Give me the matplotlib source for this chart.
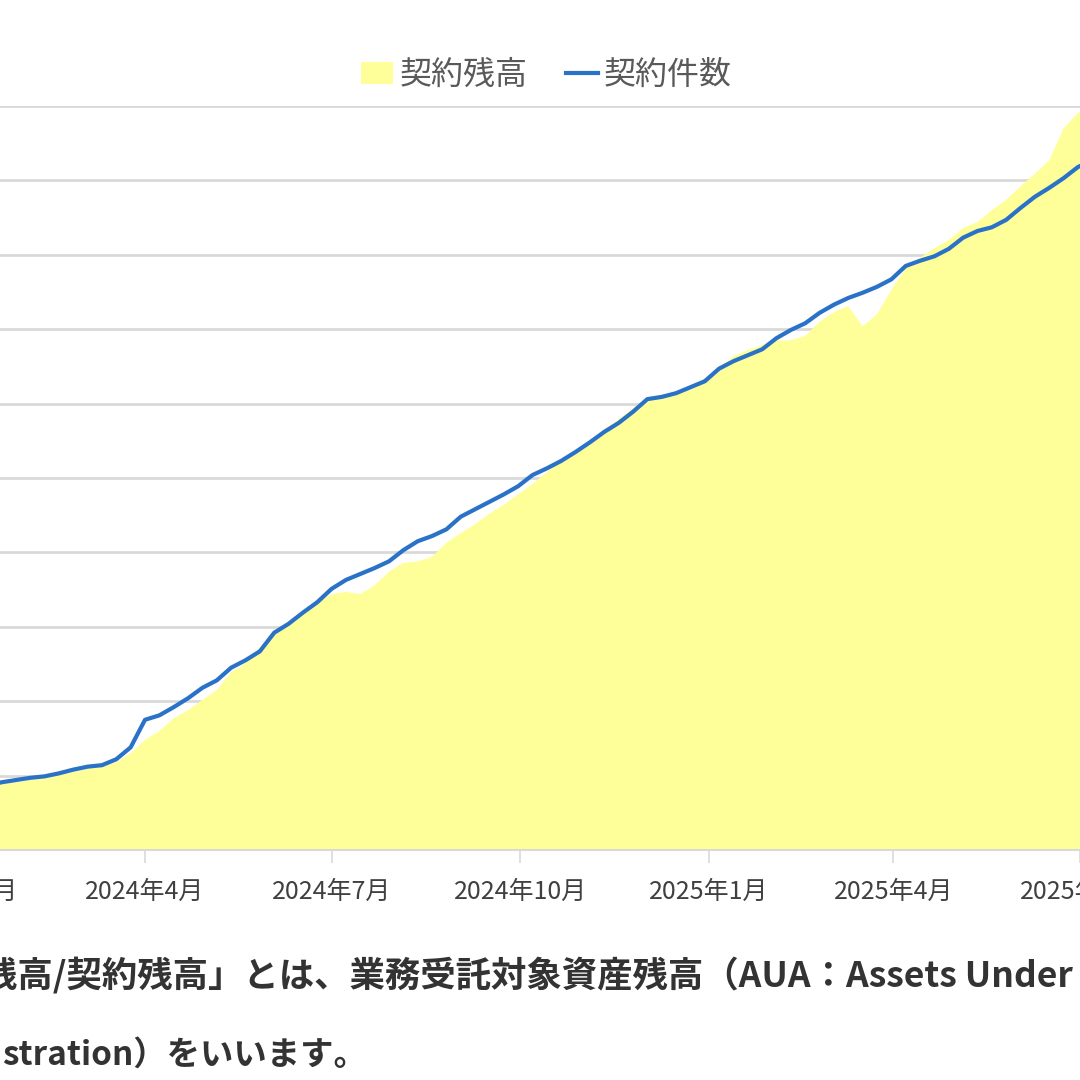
import matplotlib
matplotlib.use("Agg")
import matplotlib.pyplot as plt
from matplotlib.patches import Patch
from matplotlib.lines import Line2D
import pandas as pd
import numpy as np

plt.rcParams['font.family'] = ['Noto Sans CJK JP', 'DejaVu Sans']

# ---- data (weekly observations, values in gridline units) ----
dates = pd.date_range('2024-01-15', periods=78, freq='7D')

balance = [0.83, 0.89, 0.91, 0.94, 0.97, 1.01, 1.05, 1.09, 1.12, 1.18,
           1.30, 1.48, 1.60, 1.77, 1.88, 2.02, 2.15, 2.39, 2.51, 2.72,
           2.89, 3.04, 3.19, 3.33, 3.44, 3.47, 3.44, 3.56, 3.74, 3.86,
           3.88, 3.94, 4.13, 4.26, 4.38, 4.52, 4.64, 4.78, 4.92, 5.08,
           5.24, 5.32, 5.48, 5.65, 5.79, 5.94, 6.08, 6.12, 6.16, 6.24,
           6.34, 6.48, 6.64, 6.72, 6.79, 6.85, 6.85, 6.91, 7.10, 7.23,
           7.31, 7.04, 7.20, 7.53, 7.82, 7.96, 8.09, 8.20, 8.36, 8.44,
           8.60, 8.74, 8.92, 9.09, 9.27, 9.70, 9.91, 9.97]

contracts = [0.86, 0.91, 0.94, 0.97, 0.99, 1.03, 1.08, 1.12, 1.14, 1.22,
             1.38, 1.75, 1.81, 1.92, 2.04, 2.18, 2.28, 2.45, 2.55, 2.67,
             2.92, 3.04, 3.19, 3.33, 3.51, 3.63, 3.71, 3.79, 3.88, 4.03,
             4.15, 4.22, 4.31, 4.48, 4.58, 4.68, 4.78, 4.89, 5.04, 5.13,
             5.23, 5.35, 5.48, 5.62, 5.74, 5.89, 6.06, 6.09, 6.14, 6.22,
             6.30, 6.47, 6.57, 6.65, 6.73, 6.88, 6.99, 7.08, 7.22, 7.33,
             7.42, 7.49, 7.57, 7.67, 7.85, 7.92, 7.98, 8.08, 8.23, 8.32,
             8.37, 8.47, 8.63, 8.78, 8.90, 9.03, 9.18, 9.27]

tick_dates = pd.to_datetime(['2024-01-01', '2024-04-01', '2024-07-01',
                             '2024-10-01', '2025-01-01', '2025-04-01',
                             '2025-07-01'])
tick_labels = ['2024年1月', '2024年4月', '2024年7月', '2024年10月',
               '2025年1月', '2025年4月', '2025年7月']

series_names = ['契約残高', '契約件数']

note_line1_pre = '「AUA'
note_line1 = '残高/契約残高」とは、業務受託対象資産残高（AUA：Assets Under'
note_line2_pre = 'Admini'
note_line2 = 'stration）をいいます。'

# ---- styling ----
YELLOW = '#FFFF99'
BLUE = '#2A72C8'
GRID = '#D9D9D9'

W = H = 1080
fig = plt.figure(figsize=(10.8, 10.8), dpi=100)

# axes extends beyond the visible canvas (the reference is a cropped screenshot)
xlo = pd.Timestamp('2024-01-01')
xhi = pd.Timestamp('2025-07-31')
ppd = 935 / 456.0  # px per day
x_lo_px = 145 - (pd.Timestamp('2024-04-01') - xlo).days * ppd
x_hi_px = 1080 + (xhi - pd.Timestamp('2025-07-01')).days * ppd
bottom_px, top_px = 850, 106
ax = fig.add_axes([x_lo_px / W, (H - bottom_px) / H,
                   (x_hi_px - x_lo_px) / W, (bottom_px - top_px) / H])

ax.fill_between(dates, 0, balance, color=YELLOW, linewidth=0, zorder=2)
ax.plot(dates, contracts, color=BLUE, linewidth=3.0, zorder=3)

ax.set_xlim(xlo, xhi)
ax.set_ylim(0, 10)
ax.set_yticks(np.arange(0, 11, 1))
ax.yaxis.grid(True, color=GRID, linewidth=2.0, zorder=0)
ax.set_axisbelow(True)
ax.tick_params(axis='y', left=False, labelleft=False)

ax.set_xticks(tick_dates)
ax.set_xticklabels(tick_labels, fontsize=18, color='#404040')
ax.tick_params(axis='x', direction='out', length=9, width=1.2, color=GRID, pad=12)

for s in ['left', 'right', 'top']:
    ax.spines[s].set_visible(False)
ax.spines['bottom'].set_color(GRID)
ax.spines['bottom'].set_linewidth(1.5)

handles = [Patch(facecolor=YELLOW, edgecolor='none'),
           Line2D([0], [0], color=BLUE, linewidth=3.0)]
fig.legend(handles, series_names, loc='center', bbox_to_anchor=(0.506, 1 - 75 / H),
           ncol=2, frameon=False, fontsize=23, labelcolor='#595959',
           handlelength=1.0, handletextpad=0.2, columnspacing=1.2)

# note text below the chart (cropped at the left edge)
fs_note = 25.5
fig.text(-18 / W, 1 - 975 / H, note_line1_pre, ha='right', va='center',
         fontsize=fs_note, fontweight='bold', color='#333333')
fig.text(-18 / W, 1 - 975 / H, note_line1, ha='left', va='center',
         fontsize=fs_note, fontweight='bold', color='#333333')
fig.text(2 / W, 1 - 1055 / H, note_line2_pre, ha='right', va='center',
         fontsize=24, fontweight='bold', color='#333333')
fig.text(2 / W, 1 - 1055 / H, note_line2, ha='left', va='center',
         fontsize=24, fontweight='bold', color='#333333')

fig.savefig('out.png', dpi=100, facecolor='white')
